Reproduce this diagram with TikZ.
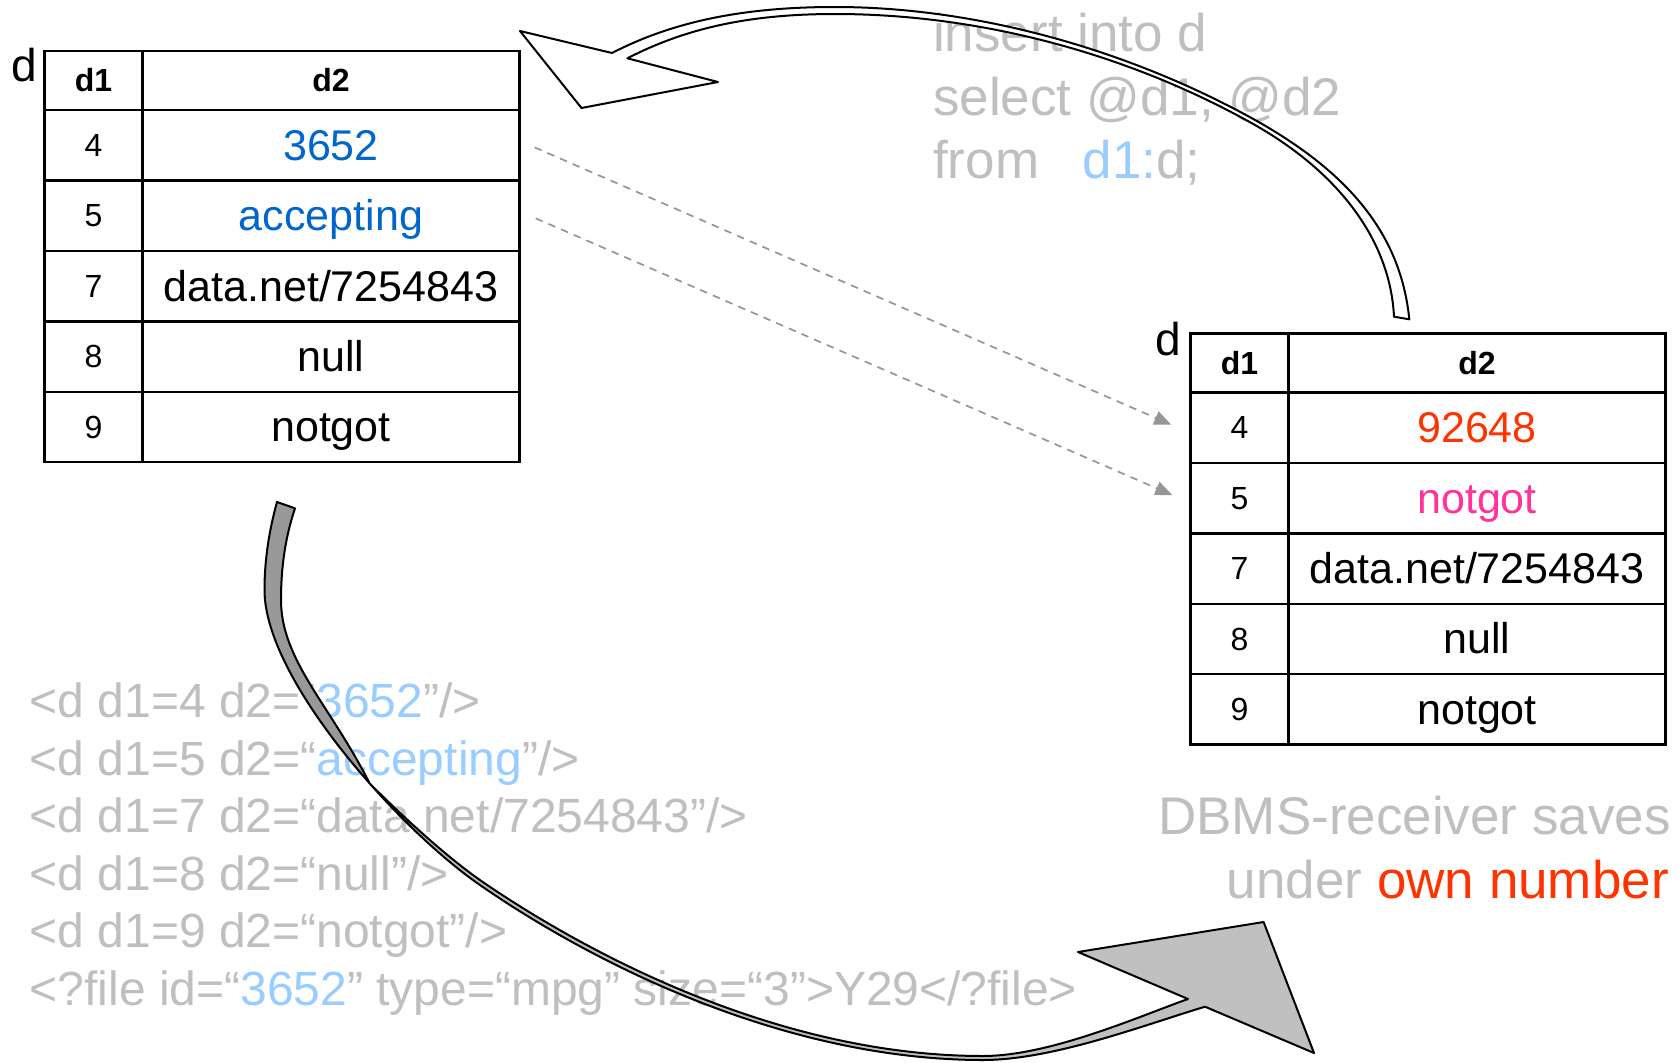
\documentclass[tikz,border=0pt]{standalone}
\usepackage{fontspec}
\setmainfont{Liberation Sans}
\usetikzlibrary{arrows.meta,calc}
\definecolor{txtgray}{RGB}{191,191,191}
\definecolor{lblue}{RGB}{153,204,255}
\definecolor{dblue}{RGB}{0,102,204}
\definecolor{ored}{RGB}{255,51,0}
\definecolor{hotpink}{RGB}{255,51,153}
\definecolor{shaftgray}{RGB}{153,153,153}
\definecolor{headgray}{RGB}{192,192,192}
\definecolor{dashgray}{RGB}{150,150,150}
\begin{document}
\begin{tikzpicture}[x=1pt,y=-1pt,
  cellbox/.style={draw=black, line width=2.4pt, anchor=north west, inner sep=0pt},
  hcell/.style={cellbox, minimum height=59pt, font=\fontsize{32}{38}\selectfont\bfseries, text height=29pt, text depth=6.8pt},
  idcell/.style={cellbox, minimum width=98pt, minimum height=70.4pt, font=\fontsize{32}{38}\selectfont, text height=29pt, text depth=6.8pt},
  valcell/.style={cellbox, minimum width=377pt, minimum height=70.4pt, font=\fontsize{43}{51}\selectfont, text height=38.9pt, text depth=9.1pt},
  tlabel/.style={font=\fontsize{46}{55}\selectfont, anchor=base west, inner sep=0pt},
  sqltext/.style={font=\fontsize{53}{63}\selectfont, text=txtgray, anchor=base west, inner sep=0pt},
  notetext/.style={font=\fontsize{53}{63}\selectfont, text=txtgray, anchor=base east, inner sep=0pt},
  xmltext/.style={font=\fontsize{48}{57}\selectfont, text=txtgray, anchor=base west, inner sep=0pt},
  dashlink/.style={draw=dashgray, line width=1.7pt, dash pattern=on 7.5pt off 6.3pt, -{Triangle[length=17pt,width=14pt,fill=dashgray]}},
  arrowline/.style={draw=black, line width=2pt, line join=round}
]
\fill[white] (0,0) rectangle (1679,1063);
\useasboundingbox (0,0) rectangle (1679,1063);

% ---- texts ----
\node[sqltext] (sql1) at (933,51.7) {insert into d};
\node[sqltext] (sql2) at (933,115) {select @d1, @d2};
\node[sqltext] (sql3) at (933,178.3) {from\hspace{43.5pt}\textcolor{lblue}{d1:}d;};

\node[notetext] (note1) at (1671,834) {DBMS-receiver saves};
\node[notetext] (note2) at (1669,898.3) {under \textcolor{ored}{own number}};

\node[xmltext] (x1) at (29.5,717.4) {<d d1=4 d2=“\textcolor{lblue}{3652}”/>};
\node[xmltext] (x2) at (29.5,775) {<d d1=5 d2=“\textcolor{lblue}{accepting}”/>};
\node[xmltext] (x3) at (29.5,832.6) {<d d1=7 d2=“data.net/7254843”/>};
\node[xmltext] (x4) at (29.5,890.2) {<d d1=8 d2=“null”/>};
\node[xmltext] (x5) at (29.5,947.8) {<d d1=9 d2=“notgot”/>};
\node[xmltext] (x6) at (29.5,1005.4) {<?file id=“\textcolor{lblue}{3652}” type=“mpg” size=“3”>Y29</?file>};

% ---- left table ----
\node[tlabel] (Ld) at (11.3,81.7) {d};
\begin{scope}[shift={(43.3,50)}]
\node[hcell, minimum width=98pt] (Lh1) at (0,0) {d1};
\node[hcell, minimum width=377pt] (Lh2) at (98,0) {d2};
\node[idcell] (L4a) at (0,59) {4};
\node[valcell, text=dblue] (L4b) at (98,59) {3652};
\node[idcell] (L5a) at (0,129.4) {5};
\node[valcell, text=dblue] (L5b) at (98,129.4) {accepting};
\node[idcell] (L7a) at (0,199.8) {7};
\node[valcell] (L7b) at (98,199.8) {data.net/7254843};
\node[idcell] (L8a) at (0,270.2) {8};
\node[valcell] (L8b) at (98,270.2) {null};
\node[idcell] (L9a) at (0,340.6) {9};
\node[valcell] (L9b) at (98,340.6) {notgot};
\end{scope}

% ---- right table ----
\node[tlabel] (Rd) at (1155.7,355) {d};
\begin{scope}[shift={(1189.3,332.3)}]
\node[hcell, minimum width=98pt] (Rh1) at (0,0) {d1};
\node[hcell, minimum width=377pt] (Rh2) at (98,0) {d2};
\node[idcell] (R4a) at (0,59) {4};
\node[valcell, text=ored] (R4b) at (98,59) {92648};
\node[idcell] (R5a) at (0,129.4) {5};
\node[valcell, text=hotpink] (R5b) at (98,129.4) {notgot};
\node[idcell] (R7a) at (0,199.8) {7};
\node[valcell] (R7b) at (98,199.8) {data.net/7254843};
\node[idcell] (R8a) at (0,270.2) {8};
\node[valcell] (R8b) at (98,270.2) {null};
\node[idcell] (R9a) at (0,340.6) {9};
\node[valcell] (R9b) at (98,340.6) {notgot};
\end{scope}

% ---- dashed links ----
\draw[dashlink] ($(L4b.east)+(14,2)$) -- ($(R4a.west)+(-18,-3)$);
\draw[dashlink] ($(L5b.east)+(15,2.5)$) -- ($(R5a.west)+(-17,-3)$);

% ---- top curved arrow (white) ----
\filldraw[arrowline, fill=white] (520,31) -- (612,53)
  .. controls (674,21) and (745,7) .. (835,7)
  .. controls (975,7) and (1122.8,48.5) .. (1246,115)
  .. controls (1342.8,167.25) and (1400.3,229.3) .. (1409.3,319.3)
  -- (1394,316.7)
  .. controls (1390,236.7) and (1334,167.5) .. (1246,120)
  .. controls (1120,51) and (975,14) .. (835,14)
  .. controls (750,14) and (686,28) .. (627.4,58.3)
  -- (718,82) -- (581.5,108) -- cycle;

% ---- bottom curved arrow (gray ribbon with a twist) ----
\coordinate (twist) at (369.6,783.3);
\filldraw[arrowline, fill=shaftgray]
  (277,502) .. controls (269,531) and (264.5,560) .. (264.5,590)
  .. controls (264.5,644) and (313.3,719.6) .. (twist)
  .. controls (330,705) and (281,660) .. (281,600)
  .. controls (281,565) and (286,535) .. (295,508.3) -- cycle;
\filldraw[arrowline, fill=headgray]
  (twist) .. controls (407.1,825.8) and (448,863) .. (480,885)
  .. controls (591,962) and (783,1060) .. (983,1060)
  .. controls (1053,1060) and (1145,1024.7) .. (1205,1006.7)
  -- (1314,1053) -- (1263.6,922) -- (1078,952) -- (1188,999)
  .. controls (1140,1016) and (1050,1056) .. (983,1056)
  .. controls (783,1056) and (594,958) .. (482,881.5)
  .. controls (451,860) and (409,823) .. (twist) -- cycle;
\end{tikzpicture}
\end{document}
